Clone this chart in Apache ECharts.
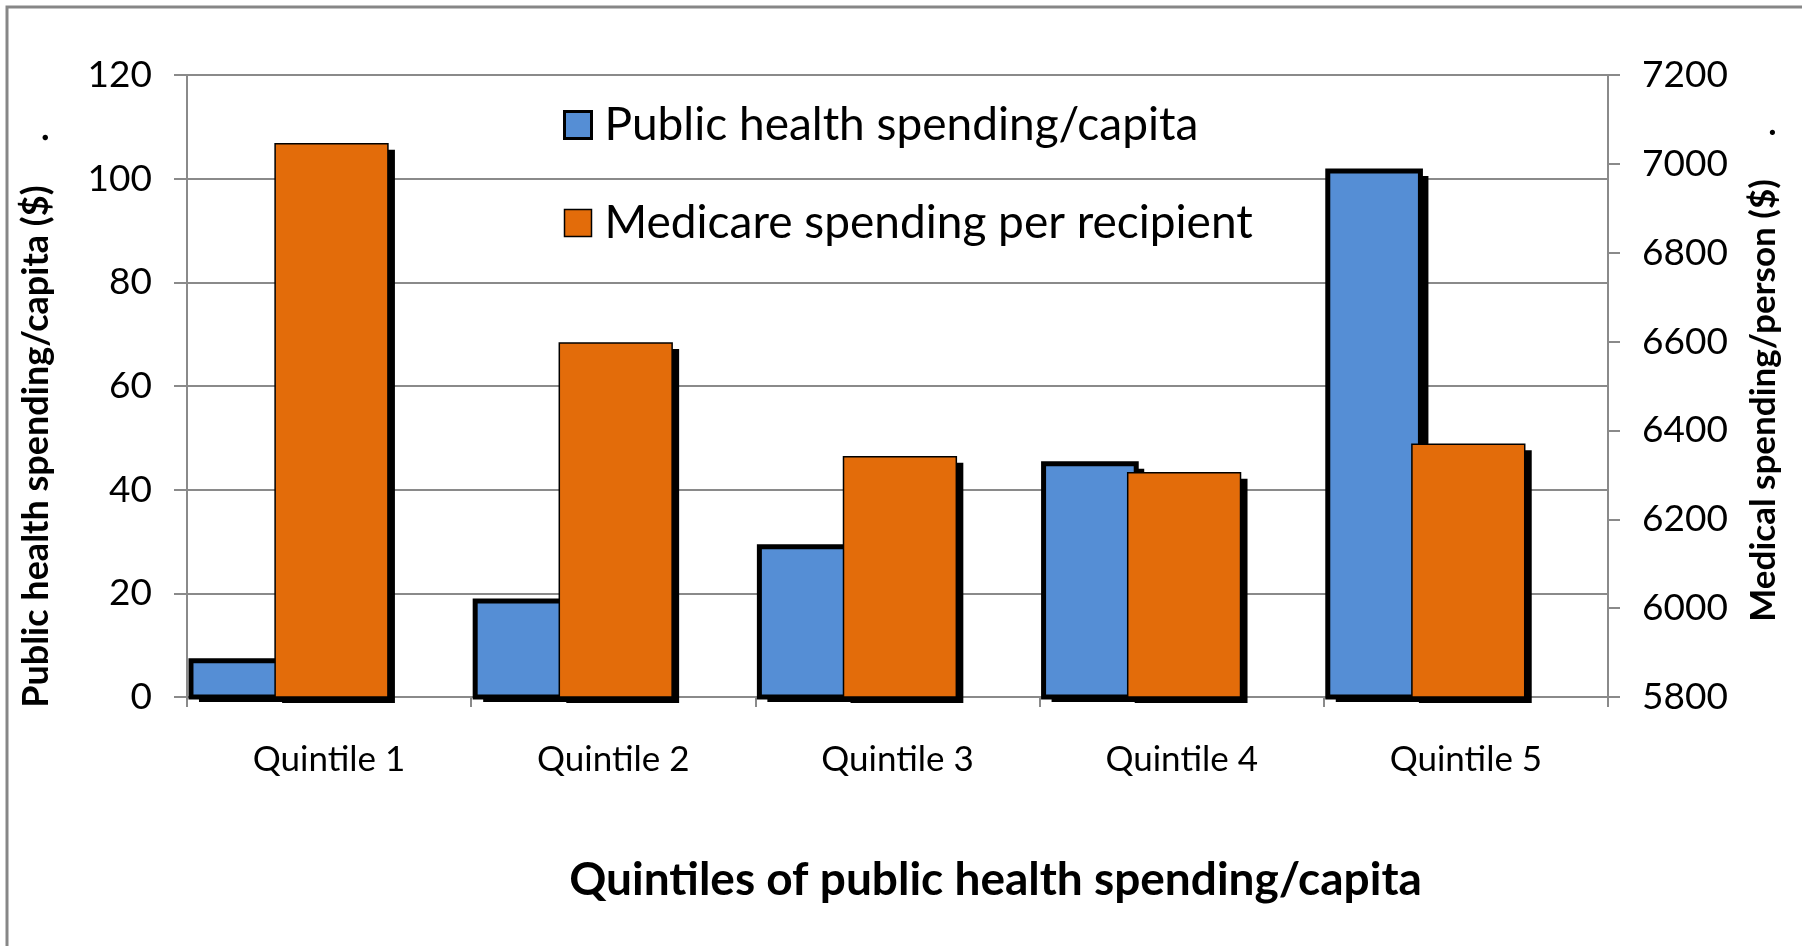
<!DOCTYPE html>
<html><head><meta charset="utf-8">
<script src="https://cdn.jsdelivr.net/npm/echarts/dist/echarts.min.js"></script>
<style>html,body{margin:0;padding:0;background:#fff;overflow:hidden}#c{width:1802px;height:946px}</style>
</head><body><div id="c"></div>
<script>
// ---- data ----
const categories = ['Quintile 1', 'Quintile 2', 'Quintile 3', 'Quintile 4', 'Quintile 5'];
const publicHealthPerCapita = [7, 18.5, 29, 45, 101.5];
const medicarePerRecipient = [7045, 6597, 6341, 6305, 6369];
const leftAxisRange = [0, 120];
const leftAxisStep = 20;
const rightAxisRange = [5800, 7200];
const rightAxisStep = 200;
const seriesNames = ['Public health spending/capita', 'Medicare spending per recipient'];

const FONT = 'Lato';
const GRAY = '#8a8a8a';

function barRenderer(fromFrac, toFrac, baseValue, fill, lineW, shX, shY) {
  return function (params, api) {
    const c = api.value(0), v = api.value(1);
    const pTop = api.coord([c, v]);
    const pBase = api.coord([c, baseValue]);
    const bw = api.size([1, 0])[0];
    const start = pTop[0] - bw / 2;
    const x = start + fromFrac * bw;
    const width = (toFrac - fromFrac) * bw;
    const y = pTop[1];
    const h = pBase[1] - pTop[1];
    return {
      type: 'group',
      children: [
        { type: 'rect', shape: { x: x + shX, y: y + shY, width: width, height: h }, style: { fill: '#000' } },
        { type: 'rect', shape: { x: x, y: y, width: width, height: h }, style: { fill: fill, stroke: '#000', lineWidth: lineW } }
      ]
    };
  };
}

const chart = echarts.init(document.getElementById('c'), null, { renderer: 'canvas' });
chart.setOption({
  animation: false,
  backgroundColor: '#fff',
  graphic: [
    { type: 'rect', shape: { x: 7, y: 7, width: 1805, height: 950 }, style: { fill: 'none', stroke: '#878787', lineWidth: 3 }, z: -1 }
  ],
  legend: {
    orient: 'vertical',
    left: 558,
    top: 97,
    itemWidth: 27,
    itemHeight: 27,
    itemGap: 52,
    textStyle: { fontFamily: FONT, fontSize: 46, color: '#000', lineHeight: 46, padding: [0, 0, 0, 8] },
    data: [
      { name: seriesNames[0], icon: 'rect', itemStyle: { color: '#558ED5', borderColor: '#000', borderWidth: 3 } },
      { name: seriesNames[1], icon: 'rect', itemStyle: { color: '#E36C0A', borderColor: '#000', borderWidth: 1.5 } }
    ]
  },
  grid: { left: 187, right: 194, top: 75, bottom: 249, containLabel: false },
  xAxis: {
    type: 'category',
    data: categories,
    name: 'Quintiles of public health spending/capita',
    nameLocation: 'middle',
    nameGap: 160,
    nameTextStyle: { fontFamily: FONT, fontSize: 46, fontWeight: 'bold', color: '#000', padding: [0, 0, 0, 196] },
    axisLine: { show: true, lineStyle: { color: GRAY, width: 2 } },
    axisTick: { show: true, length: 10, lineStyle: { color: GRAY, width: 2 } },
    axisLabel: { fontFamily: FONT, fontSize: 35, color: '#000', margin: 45 },
    splitLine: { show: false }
  },
  yAxis: [
    {
      type: 'value',
      min: leftAxisRange[0], max: leftAxisRange[1], interval: leftAxisStep,
      name: 'Public health spending/capita ($)     .',
      nameLocation: 'middle',
      nameRotate: 90,
      nameGap: 133,
      nameTextStyle: { fontFamily: FONT, fontSize: 36, fontWeight: 'bold', color: '#000', padding: [0, 69, 0, 0] },
      axisLine: { show: true, lineStyle: { color: GRAY, width: 2 } },
      axisTick: { show: true, length: 13, lineStyle: { color: GRAY, width: 2 } },
      axisLabel: { fontFamily: FONT, fontSize: 37, color: '#000', margin: 35, formatter: v => String(v) },
      splitLine: { show: true, lineStyle: { color: GRAY, width: 2 } }
    },
    {
      type: 'value',
      position: 'right',
      min: rightAxisRange[0], max: rightAxisRange[1], interval: rightAxisStep,
      name: 'Medical spending/person ($)     .',
      nameLocation: 'middle',
      nameRotate: 90,
      nameGap: 138,
      nameTextStyle: { fontFamily: FONT, fontSize: 35, fontWeight: 'bold', color: '#000', padding: [0, 0, 0, 22] },
      axisLine: { show: true, lineStyle: { color: GRAY, width: 2 } },
      axisTick: { show: true, length: 12, lineStyle: { color: GRAY, width: 2 } },
      axisLabel: { fontFamily: FONT, fontSize: 37, color: '#000', margin: 34, formatter: v => String(v) },
      splitLine: { show: false }
    }
  ],
  series: [
    {
      name: seriesNames[0],
      type: 'custom',
      xAxisIndex: 0, yAxisIndex: 0,
      itemStyle: { color: '#558ED5' },
      encode: { x: 0, y: 1 },
      data: publicHealthPerCapita.map((v, i) => [i, v]),
      renderItem: barRenderer(0.014, 0.34, leftAxisRange[0], '#558ED5', 5, 8, 5)
    },
    {
      name: seriesNames[1],
      type: 'custom',
      xAxisIndex: 0, yAxisIndex: 1,
      itemStyle: { color: '#E36C0A' },
      encode: { x: 0, y: 1 },
      data: medicarePerRecipient.map((v, i) => [i, v]),
      renderItem: barRenderer(0.31, 0.707, rightAxisRange[0], '#E36C0A', 1.5, 7, 6)
    }
  ]
});
</script>
</body></html>
